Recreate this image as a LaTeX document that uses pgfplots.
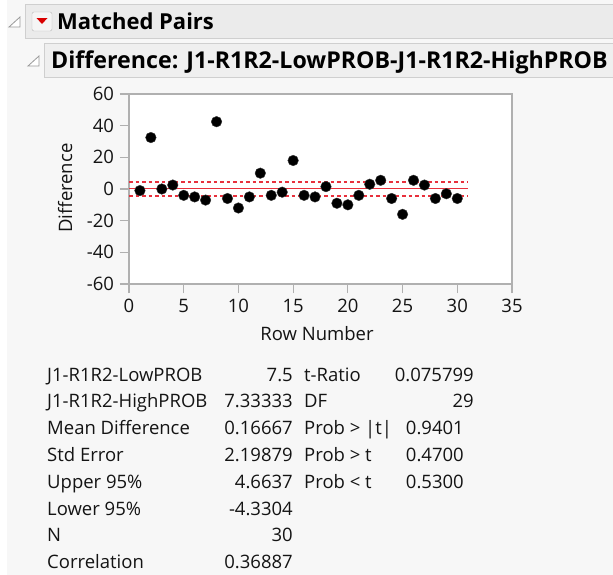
\documentclass[border=0pt]{standalone}
\usepackage{pgfplots}
\pgfplotsset{compat=1.18}
\usepackage{fontspec}
\setmainfont{Open Sans}

\definecolor{pagebg}{HTML}{F7F7F7}
\definecolor{hdrfill}{HTML}{EBEBEB}
\definecolor{hdrfillb}{HTML}{EFEFEF}
\definecolor{hdrline}{HTML}{CFCFCF}
\definecolor{framegray}{HTML}{B0B0B0}
\definecolor{meanred}{HTML}{E8303C}
\definecolor{txt}{HTML}{141414}

\newcommand{\bodyfont}{\fontsize{18.5bp}{21bp}\selectfont}
\newcommand{\headfont}{\fontsize{22bp}{26bp}\selectfont\bfseries}
\newcommand{\headfontb}{\fontsize{23.2bp}{27bp}\selectfont\bfseries}

% paired differences, row by row
\pgfplotstableread{
row diff
1  -1
2  32.5
3  0
4  2.5
5  -4
6  -5
7  -7
8  42.5
9  -6
10 -12
11 -5
12 10
13 -4
14 -2
15 18
16 -4
17 -5
18 1.5
19 -9
20 -10
21 -4
22 3
23 5.5
24 -6
25 -16
26 5.5
27 2.5
28 -6
29 -3
30 -6
}\diffdata

\begin{document}
\begin{tikzpicture}
% page background
\fill[white] (0,0) rectangle (613bp,-575bp);
\fill[pagebg] (7bp,0) rectangle (613bp,-575bp);

\begin{scope}[x=1bp,y=-1bp]
  % report header
  \filldraw[fill=hdrfill,draw=hdrline] (25,4) rectangle (615,38);
  \filldraw[fill=hdrfillb,draw=hdrline] (44,43) rectangle (615,77);
  % disclosure icons
  \filldraw[fill=white,draw=gray!80,line width=0.8bp] (9,27) -- (20,17) -- (20,27) -- cycle;
  \filldraw[fill=white,draw=gray!80,line width=0.8bp] (28,66) -- (39,56) -- (39,66) -- cycle;
  % red menu button
  \filldraw[fill=white!96!black,draw=gray!55,rounded corners=2bp] (32,12) rectangle (52,31);
  \fill[red!85!black] (36.5,18) -- (47.5,18) -- (42,24) -- cycle;
  \node[anchor=base west,inner sep=0,text=black] at (57,29) {\headfont Matched Pairs};
  \node[anchor=base west,inner sep=0,text=black] at (51,68) {\headfontb Difference: J1-R1R2-LowPROB-J1-R1R2-HighPROB};

  % summary statistics
  \begin{scope}[every node/.style={inner sep=0,text=txt,font=\bodyfont}]
    \foreach \lab [count=\i from 0] in {J1-R1R2-LowPROB,J1-R1R2-HighPROB,Mean Difference,Std Error,Upper 95\%,Lower 95\%,N,Correlation}
      \node[anchor=base west] at (47,381+26.8*\i) {\lab};
    \foreach \val [count=\i from 0] in {7.5,7.33333,0.16667,2.19879,4.6637,-4.3304,30,0.36887}
      \node[anchor=base east] at (293,381+26.8*\i) {\val};
    \foreach \lab [count=\i from 0] in {t-Ratio,DF,Prob > |t|,Prob > t,Prob < t}
      \node[anchor=base west] at (304,381+26.8*\i) {\lab};
    \node[anchor=base east] at (474,381) {0.075799};
    \node[anchor=base east] at (474,407.8) {29};
    \node[anchor=base east] at (464,434.6) {0.9401};
    \node[anchor=base east] at (464,461.4) {0.4700};
    \node[anchor=base east] at (464,488.2) {0.5300};
  \end{scope}
\end{scope}

\begin{axis}[
  at={(129bp,-284bp)}, anchor=south west,
  width=383bp, height=190bp, scale only axis,
  xmin=0, xmax=35, ymin=-60, ymax=60,
  xtick={0,5,...,35}, ytick={-60,-40,...,60},
  xtick pos=bottom, ytick pos=left,
  tick align=outside, major tick length=9bp,
  axis line style={draw=framegray, line width=1.2bp},
  tick style={draw=framegray, line width=1.2bp},
  axis background/.style={fill=white},
  /pgf/number format/assume math mode=true,
  tick label style={font=\bodyfont, text=txt},
  xticklabel style={yshift=-3bp},
  yticklabel style={xshift=-2.5bp},
  xlabel={Row Number}, ylabel={Difference},
  xlabel style={font=\bodyfont, text=txt, at={(axis description cs:0.491,-0.263)}, anchor=center},
  ylabel style={font=\bodyfont, text=txt, at={(axis description cs:-0.167,0.505)}, anchor=center, rotate=0},
  clip=false,
]
  % mean difference with its 95% confidence limits
  \addplot[meanred, line width=1.5bp] coordinates {(0,0.16667) (31,0.16667)};
  \addplot[meanred, line width=1.9bp, dash pattern=on 3.5bp off 3bp] coordinates {(0,4.6637) (31,4.6637)};
  \addplot[meanred, line width=1.9bp, dash pattern=on 3.5bp off 3bp] coordinates {(0,-4.3304) (31,-4.3304)};
  \addplot[only marks, mark=*, mark size=5.3bp, mark options={fill=black, draw=black!80}] table[x=row, y=diff] {\diffdata};
\end{axis}

\pgfresetboundingbox
\path (0,0) rectangle (613bp,-575bp);
\end{tikzpicture}
\end{document}
